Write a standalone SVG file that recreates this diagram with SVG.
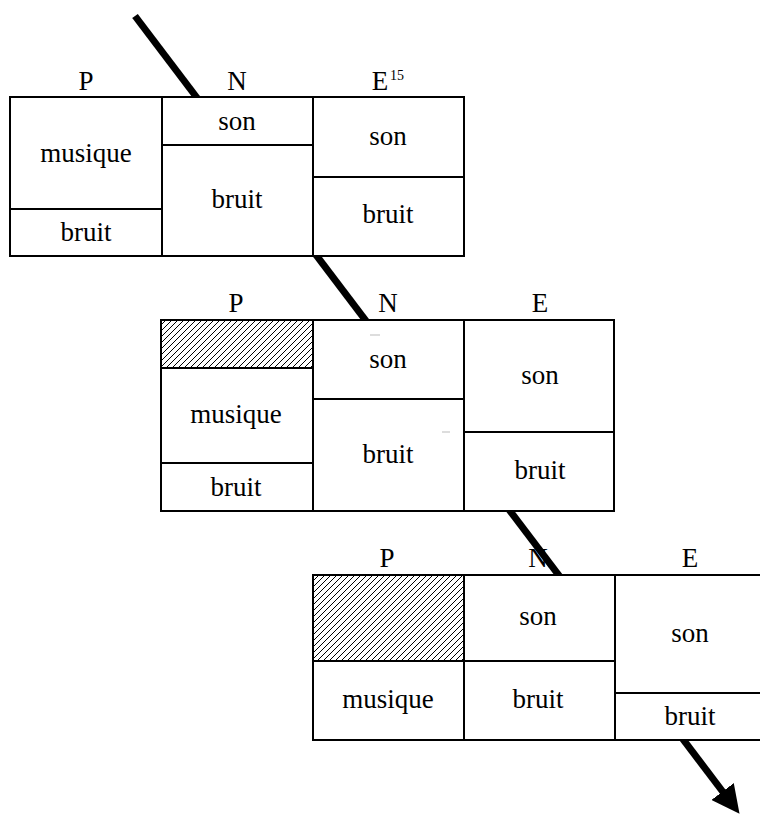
<svg xmlns="http://www.w3.org/2000/svg" width="760" height="814" viewBox="0 0 760 814">
<style>
text{font-family:"Liberation Serif","Times New Roman",serif;font-size:27px;fill:#000;text-anchor:middle}
.sup{font-size:14px;text-anchor:start}
.cell{fill:#fff;stroke:#000;stroke-width:2}
.hatch{fill:url(#h);stroke:#000;stroke-width:2}
.dash{stroke:#bbb;stroke-width:1}
</style>
<defs>
<pattern id="h" width="6" height="6" patternUnits="userSpaceOnUse">
<rect width="6" height="6" fill="#fff"/>
<path d="M0,6 L6,0 M-1,1 L1,-1 M5,7 L7,5" stroke="#000" stroke-width="1"/>
</pattern>
<marker id="ah" markerWidth="4" markerHeight="4" refX="0.8" refY="2" orient="auto" markerUnits="strokeWidth">
<path d="M0,0 L4,2 L0,4 Z" fill="#000"/>
</marker>
</defs>
<g id="connectors">
<line x1="135" y1="16" x2="726" y2="796" stroke="#000" stroke-width="7" marker-end="url(#ah)"/>
</g>
<g id="block1">
<text x="86" y="90">P</text>
<text x="237" y="90">N</text>
<text x="380" y="90">E</text><text class="sup" x="390" y="80">15</text>
<rect class="cell" x="10" y="97" width="152" height="112"/>
<rect class="cell" x="10" y="209" width="152" height="47"/>
<rect class="cell" x="162" y="97" width="151" height="48"/>
<rect class="cell" x="162" y="145" width="151" height="111"/>
<rect class="cell" x="313" y="97" width="151" height="80"/>
<rect class="cell" x="313" y="177" width="151" height="79"/>
<text x="86" y="162">musique</text>
<text x="86" y="241">bruit</text>
<text x="237" y="130">son</text>
<text x="237" y="208">bruit</text>
<text x="388" y="145">son</text>
<text x="388" y="223">bruit</text>
</g>
<g id="block2">
<text x="236" y="312">P</text>
<text x="388" y="312">N</text>
<text x="540" y="312">E</text>
<rect class="hatch" x="161" y="320" width="152" height="48"/>
<rect class="cell" x="161" y="368" width="152" height="95"/>
<rect class="cell" x="161" y="463" width="152" height="48"/>
<rect class="cell" x="313" y="320" width="151" height="79"/>
<rect class="cell" x="313" y="399" width="151" height="112"/>
<rect class="cell" x="464" y="320" width="150" height="112"/>
<rect class="cell" x="464" y="432" width="150" height="79"/>
<line class="dash" x1="370" y1="335" x2="380" y2="335"/>
<line class="dash" x1="442" y1="432" x2="450" y2="432"/>
<text x="236" y="423">musique</text>
<text x="236" y="496">bruit</text>
<text x="388" y="368">son</text>
<text x="388" y="463">bruit</text>
<text x="540" y="384">son</text>
<text x="540" y="479">bruit</text>
</g>
<g id="block3">
<text x="387" y="567">P</text>
<text x="538" y="567">N</text>
<text x="690" y="567">E</text>
<rect class="hatch" x="313" y="575" width="151" height="86"/>
<rect class="cell" x="313" y="661" width="151" height="79"/>
<rect class="cell" x="464" y="575" width="151" height="86"/>
<rect class="cell" x="464" y="661" width="151" height="79"/>
<rect class="cell" x="615" y="575" width="160" height="118"/>
<rect class="cell" x="615" y="693" width="160" height="47"/>
<text x="388" y="708">musique</text>
<text x="538" y="708">bruit</text>
<text x="538" y="625">son</text>
<text x="690" y="642">son</text>
<text x="690" y="725">bruit</text>
</g>
</svg>
